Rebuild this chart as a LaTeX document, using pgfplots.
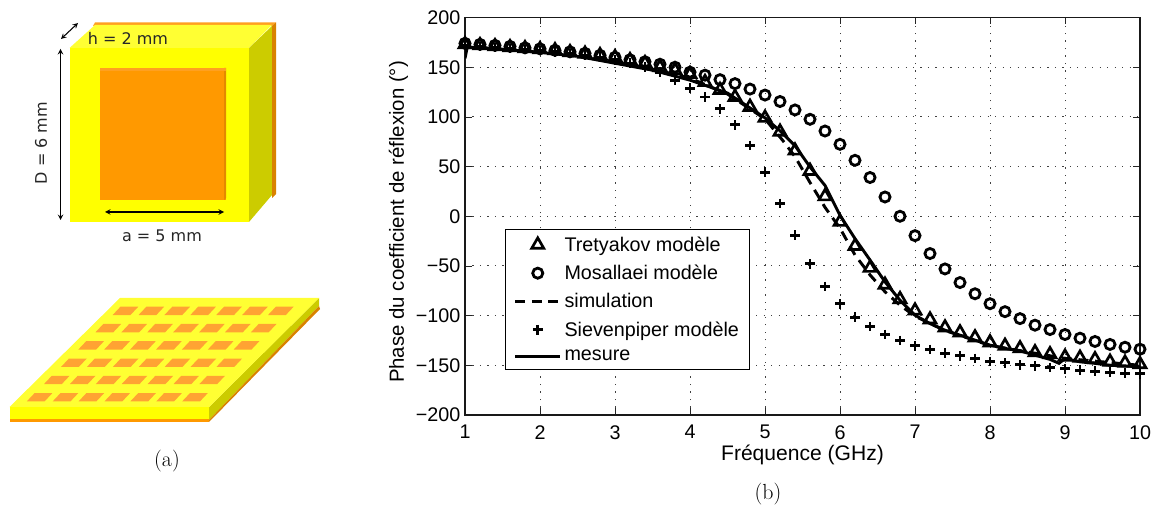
\documentclass[border=0pt]{standalone}
\usepackage{fontspec}
\setsansfont{Liberation Sans}
\newfontfamily\djv{DejaVu Sans}
\usepackage{pgfplots}
\pgfplotsset{compat=1.18}
\usepackage{pgfplotstable}
\definecolor{cface}{HTML}{FFFF00}
\definecolor{ctop}{HTML}{FFFF33}
\definecolor{cside}{HTML}{CCCC00}
\definecolor{csq}{HTML}{FF9900}
\definecolor{csqtop}{HTML}{FFA020}
\definecolor{cstrip}{HTML}{D98200}
\definecolor{cpatch}{HTML}{FFA333}
\pgfplotstableread{
x tre mos sie
1.0 173 174 172
1.2 172 173 171
1.4 171 172 170
1.6 170 171 169
1.8 169 169.5 168
2.0 168 168.5 167
2.2 167 167 165.5
2.4 165 165.5 164
2.6 163.5 164 162
2.8 162 162 160
3.0 160 160 157.5
3.2 157 157.5 154
3.4 154 155.5 150
3.6 150 153 145
3.8 147 150 137
4.0 143 145 129
4.2 135 142 120
4.4 127 137.5 108
4.6 120 133.5 92
4.8 110 128 71.4
5.0 99 122 44.5
5.2 85 115.5 13
5.4 66 107 -19
5.6 45.6 97.6 -48
5.8 20 85.8 -70.7
6.0 -5.7 72.4 -88
6.2 -30 56.3 -101.6
6.4 -52 39 -111
6.6 -69 19.4 -119
6.8 -83.5 0 -125
7.0 -95 -19.5 -130.5
7.2 -104 -37.5 -134
7.4 -112 -53 -137.8
7.6 -117 -66.7 -140.5
7.8 -122 -78 -143
8.0 -127 -88 -146
8.2 -130.5 -96 -147.5
8.4 -133 -103 -149.6
8.6 -137 -109.6 -150.6
8.8 -139 -114 -152
9.0 -141.5 -119 -153.5
9.2 -142.5 -122.7 -155
9.4 -144 -126 -156
9.6 -146.5 -129 -157
9.8 -147.5 -131.8 -158
10.0 -149 -133.8 -158.7
}\models
\begin{document}
\begin{tikzpicture}[x=0.75pt,y=-0.75pt]
\useasboundingbox (0,0) rectangle (1154,506);
% --- unit cell
\fill[csqtop] (95,22.5) -- (276,22.5) -- (272,26) -- (93,26) -- cycle;
\fill[ctop] (69.5,48) -- (95,25) -- (272,25) -- (249,48) -- cycle;
\fill[cside] (249,48) -- (272,26) -- (272,195) -- (249,222) -- cycle;
\fill[cstrip] (272,26) -- (276,22.5) -- (276,194) -- (272,198) -- cycle;
\fill[cface] (69.5,48) rectangle (249,222);
\fill[csq] (99.5,68) rectangle (226,200);
\fill[cstrip!70!csq] (224,68) -- (226,68) -- (226,198) -- (224,200) -- cycle;
\fill[csqtop] (99.5,68) rectangle (226,71);
\draw[black,line width=0.8pt,<->,>=stealth] (60.5,49) -- (60.5,220);
\draw[black,line width=0.8pt,<->,>=stealth] (105,212) -- (224,212);
\draw[black,line width=0.8pt,<->,>=stealth] (61,39) -- (78,23);
\node[font=\djv\fontsize{12}{14}\selectfont,text=black!85,rotate=90] at (41,143) {D = 6 mm};
\node[font=\djv\fontsize{12}{14}\selectfont,text=black!85] at (128,38) {h = 2 mm};
\node[font=\djv\fontsize{12}{14}\selectfont,text=black!85] at (162,236) {a = 5 mm};
% --- board
\fill[cside] (209,407) -- (319,298) -- (319,306) -- (209,420) -- cycle;
\fill[cstrip] (209,420) -- (319,306) -- (320,309) -- (209,422) -- cycle;
\fill[ctop] (120,298) -- (319,298) -- (209,407) -- (9.5,407) -- cycle;
\fill[cface] (9.5,407) rectangle (209,419);
\fill[csq] (9.5,419) rectangle (209,422);
\foreach \r in {0,...,5}{
  \foreach \c in {0,...,6}{
    \pgfmathsetmacro{\xa}{(338-51.5*\r)/3+\c*25.9}
    \pgfmathsetmacro{\ya}{270+(135+51.8*\r)/3}
    \fill[cpatch] (\xa,\ya) -- (\xa+17.8,\ya) -- (\xa+25.6,\ya-8.3) -- (\xa+7.8,\ya-8.3) -- cycle;
  }
}
\node[font=\rmfamily\fontsize{16.4}{18}\selectfont] at (167,461) {(a)};
\node[font=\rmfamily\fontsize{16.4}{18}\selectfont] at (768,494) {(b)};
% --- axis
\begin{axis}[
  at={(465*0.75pt,-415*0.75pt)}, anchor=south west,
  scale only axis, width=506.25pt, height=298.1pt,
  xmin=1, xmax=10, ymin=-200, ymax=200,
  xtick={1,...,10}, ytick={-200,-150,-100,-50,0,50,100,150,200},
  yticklabels={−200,−150,−100,−50,0,50,100,150,200},
  tick align=inside, tick pos=both, major tick length=5pt,
  tick style={black!85,line width=0.6pt},
  axis line style={black!90,line width=1.1pt},
  grid=major,
  grid style={black!75,line width=0.7pt,dash pattern=on 0.9pt off 4.7pt},
  font=\sffamily\fontsize{14.8}{17}\selectfont,
  tick label style={font=\sffamily\fontsize{14.8}{17}\selectfont},
  xticklabel style={yshift=-4.2pt},
  /pgf/number format/assume math mode=true,
  xlabel={Fréquence (GHz)}, ylabel={Phase du coefficient de réflexion (°)},
  xlabel style={at={(axis description cs:0.5,-0.1006)},anchor=center,font=\sffamily\fontsize{15.8}{18}\selectfont},
  ylabel style={at={(axis description cs:-0.0985,0.4855)},anchor=center,font=\sffamily\fontsize{15.3}{18}\selectfont},
  legend style={at={(0.0593,0.468)},anchor=north west,draw=black,line width=0.9pt,
    font=\sffamily\fontsize{14.8}{17}\selectfont,cells={anchor=west},
    row sep=4.9pt,inner xsep=6pt,inner ysep=3.2pt},
  legend image code/.code={\draw[mark repeat=2,mark phase=2,#1] plot coordinates {(0pt,0pt)(17pt,0pt)(34pt,0pt)};},
]
\addplot[only marks,mark=triangle,mark size=5.2pt,mark options={line width=2pt}] table[x=x,y=tre]{\models};
\addlegendentry{Tretyakov modèle}
\addplot[only marks,mark=o,mark size=3.8pt,mark options={line width=2.1pt}] table[x=x,y=mos]{\models};
\addlegendentry{Mosallaei modèle}
\addplot[line width=2.2pt,dash pattern=on 7.5pt off 5pt] coordinates {
(1,170)(1.5,168)(2,165)(2.5,161)(3,155)(3.5,148)(4,139)(4.5,123)(5,98)(5.24,76)(5.4,60)(5.6,34)(5.8,9)(6,-12)(6.2,-39)(6.4,-59)(6.6,-76)(6.8,-89.5)(7,-100.6)(7.4,-115)(8,-130)(9,-143)(10,-150)};
\addlegendentry{simulation}
\addplot[only marks,mark=+,mark size=3.6pt,mark options={line width=2.2pt}] table[x=x,y=sie]{\models};
\addlegendentry{Sievenpiper modèle}
\addplot[line width=2.2pt] coordinates {
(1,159)(1.03,170)(1.2,170)(1.5,168)(2,165)(2.5,161)(3,154)(3.5,147)(4,137)(4.5,124)(5,99)(5.2,86)(5.4,71)(5.6,49.7)(5.8,31)(6,1)(6.2,-22.5)(6.4,-44)(6.6,-66)(6.8,-84.5)(7,-99.6)(7.2,-108)(7.4,-114.7)(7.6,-119.7)(7.8,-124.7)(8,-129.7)(8.2,-133)(8.4,-135.5)(8.6,-139.8)(8.8,-144)(8.92,-148)(9,-143)(9.2,-146.5)(9.4,-148)(9.6,-150)(9.8,-150.6)(10,-151.6)};
\addlegendentry{mesure}
\end{axis}
\end{tikzpicture}
\end{document}
